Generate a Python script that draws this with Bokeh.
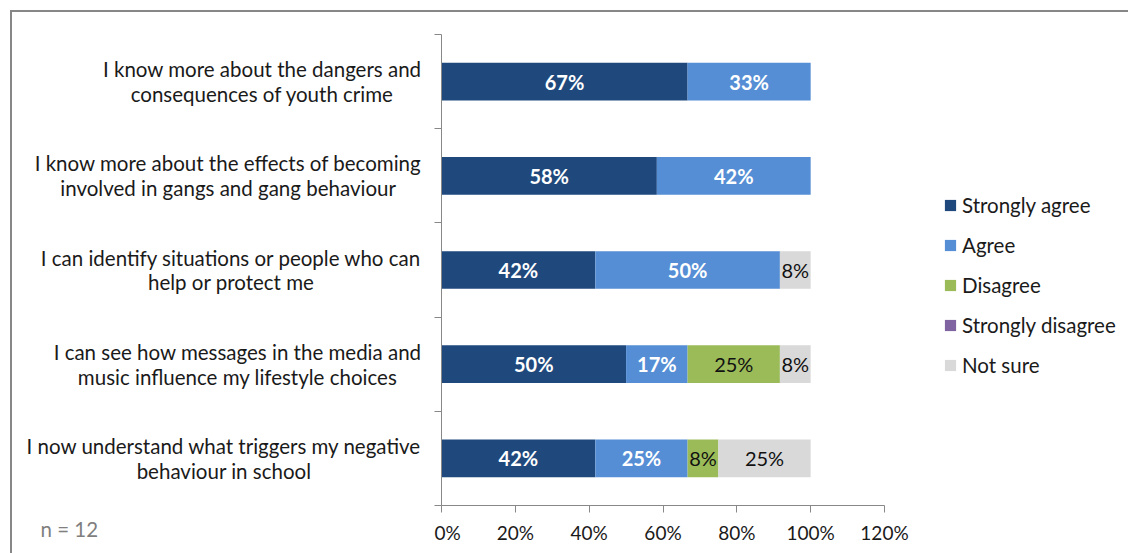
from bokeh.plotting import figure
from bokeh.layouts import row
from bokeh.models import (ColumnDataSource, FixedTicker, PrintfTickFormatter, Legend,
                          LegendItem, Title, Range1d)
from bokeh.embed import file_html
from bokeh.resources import INLINE
from bokeh.core.properties import value

N = 12
statements = [
    "I know more about the dangers and\nconsequences of youth crime",
    "I know more about the effects of becoming\ninvolved in gangs and gang behaviour",
    "I can identify situations or people who can\nhelp or protect me",
    "I can see how messages in the media and\nmusic influence my lifestyle choices",
    "I now understand what triggers my negative\nbehaviour in school",
]
series = ["Strongly agree", "Agree", "Disagree", "Strongly disagree", "Not sure"]
strongly_agree = [8, 7, 5, 6, 5]
agree = [4, 5, 6, 2, 3]
disagree = [0, 0, 0, 3, 1]
strongly_disagree = [0, 0, 0, 0, 0]
not_sure = [0, 0, 1, 1, 3]
x_ticks = [0, 20, 40, 60, 80, 100, 120]
note = "n = 12"

colors = ["#1F497D", "#558ED5", "#9BBB59", "#8064A2", "#D9D9D9"]
label_colors = ["white", "white", "#111111", "#111111", "#111111"]
label_styles = ["bold", "bold", "normal", "normal", "normal"]
FONT = "Lato"
AXIS_COLOR = "#888888"
TEXT_COLOR = "#1a1a1a"

# layout (pixels)
W, H = 1128, 553
LEFT_W = 434          # category-label panel
MAIN_W = 480          # bars + axes
LEG_W = W - LEFT_W - MAIN_W
TOP, BOTTOM = 34, 48

counts = [strongly_agree, agree, disagree, strongly_disagree, not_sure]
n_rows = len(statements)
ys = [n_rows - i - 0.5 for i in range(n_rows)]
data = {"y": ys}
keys = ["s%d" % k for k in range(len(series))]
for k, c in zip(keys, counts):
    data[k] = [v / N * 100 for v in c]
source = ColumnDataSource(data)
y_range = Range1d(0, n_rows)

# ---------------- main plot ----------------
p = figure(width=MAIN_W, height=H, output_backend="svg", toolbar_location=None,
           x_range=Range1d(0, 120), y_range=y_range,
           min_border_left=7, min_border_right=30, min_border_top=TOP,
           min_border_bottom=BOTTOM)
p.outline_line_color = None
p.grid.visible = False
p.border_fill_color = None

renderers = p.hbar_stack(keys, y="y", height=0.4, color=colors, source=source,
                         line_color=None)

for idx, k in enumerate(keys):
    xs, yy, tt = [], [], []
    for r in range(n_rows):
        v = data[k][r]
        if v <= 0:
            continue
        left = sum(data[kk][r] for kk in keys[:idx])
        xs.append(left + v / 2)
        yy.append(ys[r])
        tt.append("%d%%" % round(v))
    if xs:
        p.text(x=xs, y=yy, text=tt, text_align="center", text_baseline="middle",
               text_color=label_colors[idx], text_font=value(FONT),
               text_font_size="20px", text_font_style=label_styles[idx])

xa = p.xaxis[0]
xa.ticker = FixedTicker(ticks=x_ticks, minor_ticks=[])
xa.formatter = PrintfTickFormatter(format="%d%%")
xa.axis_line_color = AXIS_COLOR
xa.major_tick_line_color = AXIS_COLOR
xa.major_tick_out = 7
xa.major_tick_in = 0
xa.major_label_standoff = 8
xa.major_label_text_font = FONT
xa.major_label_text_font_size = "19px"
xa.major_label_text_color = TEXT_COLOR

ya = p.yaxis[0]
ya.ticker = FixedTicker(ticks=[], minor_ticks=[float(i) for i in range(n_rows + 1)])
ya.axis_line_color = AXIS_COLOR
ya.major_tick_line_color = None
ya.major_tick_out = 0
ya.major_tick_in = 0
ya.minor_tick_line_color = AXIS_COLOR
ya.minor_tick_out = 7
ya.minor_tick_in = 0
ya.major_label_standoff = 0

# ---------------- category label panel ----------------
q = figure(width=LEFT_W, height=H, output_backend="svg", toolbar_location=None,
           x_axis_type=None, y_axis_type=None,
           x_range=Range1d(0, LEFT_W), y_range=y_range,
           min_border=0, min_border_top=TOP, min_border_bottom=BOTTOM)
q.outline_line_color = None
q.grid.visible = False
q.border_fill_color = None
q.background_fill_color = None
q.text(x=[LEFT_W - 13] * n_rows, y=ys, text=statements, text_align="center",
       anchor=value("center_right"), text_baseline="middle", text_line_height=1.04,
       text_color=TEXT_COLOR, text_font=value(FONT), text_font_size="20.5px")
q.add_layout(Title(text=note, align="left", offset=40, vertical_align="middle",
                   standoff=21, text_font=FONT, text_font_size="20.5px",
                   text_font_style="normal", text_color="#7f7f7f"), "below")

# ---------------- legend panel ----------------
# the legend swatches reuse the same stacked data, scrolled out of this panel's view
g = figure(width=LEG_W, height=H, output_backend="svg", toolbar_location=None,
           x_axis_type=None, y_axis_type=None,
           x_range=Range1d(-2, -1), y_range=y_range,
           min_border=0, min_border_top=TOP, min_border_bottom=BOTTOM)
g.outline_line_color = None
g.grid.visible = False
g.border_fill_color = None
g.background_fill_color = None
swatches = g.hbar_stack(keys, y="y", height=0.4, color=colors, source=source,
                        line_color=None)
legend = Legend(items=[LegendItem(label=s, renderers=[r]) for s, r in zip(series, swatches)],
                location=(29, 128), orientation="vertical", margin=0,
                glyph_width=14, glyph_height=14, label_height=12, spacing=16,
                padding=10, label_standoff=5, border_line_color=None,
                background_fill_alpha=0,
                label_text_font=FONT, label_text_font_size="20.5px",
                label_text_color=TEXT_COLOR)
g.add_layout(legend, "center")

layout = row(q, p, g, spacing=0, styles={
    "background": "linear-gradient(#878787, #878787) 10px 10px / 100% 2px no-repeat, "
                  "linear-gradient(#878787, #878787) 10px 10px / 2px 100% no-repeat"})

open("out.html", "w").write(file_html(layout, INLINE))
